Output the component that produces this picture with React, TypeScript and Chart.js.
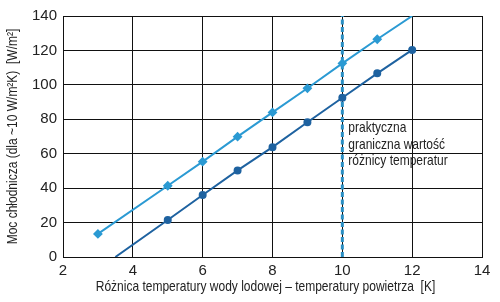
import React, { useEffect, useRef } from "react";
import { Chart, registerables } from "chart.js";

Chart.register(...registerables);

const xTicks = [2, 4, 6, 8, 10, 12, 14];
const yTicks = [0, 20, 40, 60, 80, 100, 120, 140];

const lightX = [3, 5, 6, 7, 8, 9, 10, 11, 12];
const lightY = [13.4, 41.4, 55.4, 69.9, 84, 98, 112.5, 126.5, 140];
const lightMarker = [1, 1, 1, 1, 1, 1, 1, 1, 0];

const darkX = [3.5, 5, 6, 7, 8, 9, 10, 11, 12];
const darkY = [0, 21.5, 36, 50.3, 63.8, 78.3, 92.5, 106.7, 120.3];
const darkMarker = [0, 1, 1, 1, 1, 1, 1, 1, 1];

const limitX = 10;
const annotationLines = ["praktyczna", "graniczna wartość", "różnicy temperatur"];

const xTitle = "Różnica temperatury wody lodowej – temperatury powietrza  [K]";
const yTitle = "Moc chłodnicza (dla ~10 W/m²K)  [W/m²]";

const FONT = "'Liberation Sans', Arial, sans-serif";
const NARROW = 0.8;

export default function App() {
  const ref = useRef<HTMLCanvasElement | null>(null);

  useEffect(() => {
    document.body.style.margin = "0";
    const canvas = ref.current;
    if (!canvas) return;

    const annotate = {
      id: "annot",
      afterDraw(chart: any) {
        const { ctx, scales, chartArea } = chart;
        ctx.save();
        ctx.fillStyle = "#222";
        ctx.font = `15px ${FONT}`;
        ctx.textBaseline = "middle";
        // annotation near the limit line
        const x = scales.x.getPixelForValue(limitX) + 6;
        annotationLines.forEach((t, i) => {
          ctx.save();
          ctx.translate(x, 128 + i * 16.5);
          ctx.scale(NARROW, 1);
          ctx.textAlign = "left";
          ctx.fillText(t, 0, 0);
          ctx.restore();
        });
        // x axis title
        ctx.save();
        ctx.translate((chartArea.left + chartArea.right) / 2 - 7, 287);
        ctx.scale(NARROW, 1);
        ctx.textAlign = "center";
        ctx.fillText(xTitle, 0, 0);
        ctx.restore();
        // y axis title
        ctx.save();
        ctx.translate(13, (chartArea.top + chartArea.bottom) / 2);
        ctx.rotate(-Math.PI / 2);
        ctx.scale(NARROW, 1);
        ctx.textAlign = "center";
        ctx.fillText(yTitle, 0, 0);
        ctx.restore();
        ctx.restore();
      },
    };

    const chart = new Chart(canvas, {
      type: "scatter",
      data: {
        datasets: [
          {
            data: lightX.map((x, i) => ({ x, y: lightY[i] })),
            showLine: true,
            borderColor: "#2b9ad3",
            backgroundColor: "#2b9ad3",
            borderWidth: 2,
            pointStyle: "rectRot",
            pointRadius: lightMarker.map((m) => (m ? 3.5 : 0)),
          },
          {
            data: darkX.map((x, i) => ({ x, y: darkY[i] })),
            showLine: true,
            borderColor: "#1e62a0",
            backgroundColor: "#1e62a0",
            borderWidth: 2,
            pointStyle: "circle",
            pointRadius: darkMarker.map((m) => (m ? 3 : 0)),
          },
          {
            data: [
              { x: limitX, y: yTicks[0] },
              { x: limitX, y: yTicks[yTicks.length - 1] },
            ],
            showLine: true,
            borderColor: "#2a8fc4",
            borderWidth: 3,
            borderDash: [5, 2.5],
            pointRadius: 0,
          },
        ],
      },
      options: {
        animation: false,
        responsive: false,
        maintainAspectRatio: false,
        layout: { padding: { left: 0, right: 18, top: 16, bottom: 0 } },
        plugins: {
          legend: { display: false },
          tooltip: { enabled: false },
        },
        scales: {
          x: {
            type: "linear",
            min: xTicks[0],
            max: xTicks[xTicks.length - 1],
            afterBuildTicks: (s: any) => {
              s.ticks = xTicks.map((v) => ({ value: v }));
            },
            afterFit: (s: any) => {
              s.height = 45;
            },
            grid: { color: "#111", lineWidth: 1, drawTicks: false },
            border: { color: "#111", width: 1 },
            ticks: {
              color: "#222",
              font: { family: FONT, size: 15 },
              padding: 5,
            },
          },
          y: {
            type: "linear",
            min: yTicks[0],
            max: yTicks[yTicks.length - 1],
            afterBuildTicks: (s: any) => {
              s.ticks = yTicks.map((v) => ({ value: v }));
            },
            afterFit: (s: any) => {
              s.width = 63;
            },
            grid: { color: "#111", lineWidth: 1, drawTicks: false },
            border: { color: "#111", width: 1 },
            ticks: {
              color: "#222",
              font: { family: FONT, size: 15 },
              padding: 6,
            },
          },
        },
      },
      plugins: [annotate],
    });

    return () => chart.destroy();
  }, []);

  return (
    <div style={{ width: 500, height: 302, background: "#fff" }}>
      <canvas ref={ref} width={500} height={302} style={{ display: "block" }} />
    </div>
  );
}
